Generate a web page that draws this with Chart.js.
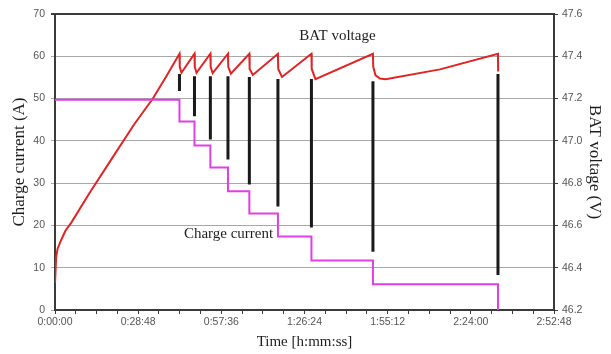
<!DOCTYPE html>
<html>
<head>
<meta charset="utf-8">
<script src="https://cdn.jsdelivr.net/npm/chart.js@4"></script>
<style>
  html, body { margin: 0; padding: 0; background: #fff; }
  #wrap { width: 611px; height: 354px; }
</style>
</head>
<body>
<div id="wrap"><canvas id="chargeChart" width="611" height="354"></canvas></div>
<script>
// BAT voltage trace, time in minutes, value in volts (right axis)
const voltTime = [0, 0.4, 0.9, 2.1, 3.6, 5.6, 11.9, 21.2, 27.5, 33.9, 38.3,
  43.1, 43.2, 43.8,
  48.3, 48.4, 49.0,
  53.8, 53.9, 54.6,
  59.9, 60.0, 60.9,
  67.3, 67.4, 68.5,
  77.2, 77.3, 78.6,
  88.8, 88.9, 90.2,
  110.1, 110.2, 111.0, 112.5, 114.5, 133.3,
  153.4, 153.45];
const voltValue = [46.328, 46.45, 46.49, 46.53, 46.575, 46.612, 46.752, 46.948, 47.08, 47.2, 47.3,
  47.412, 47.35, 47.322,
  47.412, 47.35, 47.322,
  47.412, 47.35, 47.32,
  47.412, 47.35, 47.318,
  47.412, 47.34, 47.312,
  47.412, 47.34, 47.302,
  47.412, 47.34, 47.292,
  47.412, 47.35, 47.31, 47.295, 47.292, 47.338,
  47.412, 47.328];

// Charge current steps (A), each level starts at stepTime
const stepTime = [0, 43.1, 48.3, 53.8, 59.9, 67.3, 77.2, 88.8, 110.1, 153.4];
const stepCurrent = [49.7, 44.6, 38.9, 33.7, 28.1, 22.8, 17.4, 11.7, 6.1, 0];

// Black voltage drop lines (V)
const dropTime = [43.1, 48.3, 53.8, 59.9, 67.3, 77.2, 88.8, 110.1, 153.4];
const dropTop = [47.316, 47.306, 47.306, 47.306, 47.302, 47.292, 47.292, 47.282, 47.316];
const dropBottom = [47.236, 47.116, 47.006, 46.912, 46.794, 46.69, 46.59, 46.476, 46.366];

// Axis setup
const timeMax = 172.8;        // 2:52:48
const timeMinorStep = 7.2;    // minor tick marks
const currentTicks = [0, 10, 20, 30, 40, 50, 60, 70];
const voltRange = [46.2, 47.6];

// In-chart labels (time in min, current in A)
const notes = [
  { text: "BAT voltage", t: 97.8, a: 64.8 },
  { text: "Charge current", t: 60.1, a: 18.0 }
];

const voltData = voltTime.map((t, i) => ({ x: t * 60, y: voltValue[i] }));

const currentData = [];
stepTime.forEach((t, i) => {
  if (i > 0) currentData.push({ x: t * 60, y: stepCurrent[i - 1] });
  currentData.push({ x: t * 60, y: stepCurrent[i] });
});

const dropData = [];
dropTime.forEach((t, i) => {
  dropData.push({ x: t * 60, y: dropTop[i] });
  dropData.push({ x: t * 60, y: dropBottom[i] });
  dropData.push({ x: t * 60, y: null });
});

function fmtTime(sec) {
  const h = Math.floor(sec / 3600);
  const m = Math.floor((sec % 3600) / 60);
  const s = Math.round(sec % 60);
  return h + ":" + String(m).padStart(2, "0") + ":" + String(s).padStart(2, "0");
}

const tickFont = { family: "'Liberation Sans', Arial, sans-serif", size: 10.5 };
const titleFont = { family: "'Liberation Serif', 'Times New Roman', serif", size: 15 };
const axisColor = "#3a3a3a";

const notesPlugin = {
  id: "notes",
  afterDatasetsDraw(chart) {
    const ctx = chart.ctx;
    const xs = chart.scales.x, ys = chart.scales.y;
    ctx.save();
    ctx.font = "15px 'Liberation Serif', 'Times New Roman', serif";
    ctx.fillStyle = "#1e1e1e";
    ctx.textAlign = "center";
    ctx.textBaseline = "middle";
    notes.forEach(n => {
      ctx.fillText(n.text, xs.getPixelForValue(n.t * 60), ys.getPixelForValue(n.a));
    });
    ctx.restore();
  }
};

new Chart(document.getElementById("chargeChart"), {
  type: "line",
  data: {
    datasets: [
      {
        label: "Charge current",
        data: currentData,
        yAxisID: "y",
        borderColor: "#e03ee6",
        borderWidth: 2,
        pointRadius: 0,
        tension: 0
      },
      {
        label: "Voltage drop",
        data: dropData,
        yAxisID: "yV",
        borderColor: "#1a1a1a",
        borderWidth: 3,
        pointRadius: 0,
        spanGaps: false
      },
      {
        label: "BAT voltage",
        data: voltData,
        yAxisID: "yV",
        borderColor: "#e02424",
        borderWidth: 2,
        pointRadius: 0,
        tension: 0
      }
    ]
  },
  options: {
    responsive: false,
    animation: false,
    layout: { padding: { top: 14, left: 0, right: 0, bottom: 0 } },
    plugins: {
      legend: { display: false },
      tooltip: { enabled: false }
    },
    scales: {
      x: {
        type: "linear",
        min: 0,
        max: timeMax * 60,
        afterFit(scale) { scale.height = 44; },
        afterBuildTicks(scale) {
          const t = [];
          for (let i = 0; i * timeMinorStep <= timeMax + 0.001; i++) t.push({ value: Math.round(i * timeMinorStep * 60) });
          scale.ticks = t;
        },
        ticks: {
          font: tickFont,
          color: "#555",
          padding: 2,
          maxRotation: 0,
          autoSkip: false,
          callback: (v, i) => (i % 4 === 0 ? fmtTime(v) : "")
        },
        grid: { drawOnChartArea: false, tickLength: 4, color: axisColor },
        border: { color: axisColor, width: 2 },
        title: {
          display: true,
          text: "Time [h:mm:ss]",
          font: titleFont,
          color: "#1e1e1e",
          padding: { top: 0, bottom: 3 }
        }
      },
      y: {
        position: "left",
        min: 0,
        max: 70,
        afterFit(scale) { scale.width = 55; },
        afterBuildTicks(scale) { scale.ticks = currentTicks.map(v => ({ value: v })); },
        ticks: { font: tickFont, color: "#555", padding: 6 },
        grid: {
          tickLength: 4,
          color: ctx => (ctx.tick && ctx.tick.value === 70 ? axisColor : "#a8a8a8"),
          lineWidth: ctx => (ctx.tick && ctx.tick.value === 70 ? 2 : 1)
        },
        border: { color: axisColor, width: 2 },
        title: {
          display: true,
          text: "Charge current (A)",
          font: { family: titleFont.family, size: 17 },
          color: "#1e1e1e",
          padding: { top: 9, bottom: 0 }
        }
      },
      yV: {
        position: "right",
        min: voltRange[0],
        max: voltRange[1],
        afterFit(scale) { scale.width = 57; },
        afterBuildTicks(scale) {
          const t = [];
          for (let i = 0; i <= 7; i++) t.push({ value: +(voltRange[0] + i * 0.2).toFixed(1) });
          scale.ticks = t;
        },
        ticks: {
          font: tickFont,
          color: "#555",
          padding: 4,
          callback: v => Number(v).toFixed(1)
        },
        grid: { drawOnChartArea: false, tickLength: 4, color: axisColor },
        border: { color: axisColor, width: 2 },
        title: {
          display: true,
          text: "BAT voltage (V)",
          font: { family: titleFont.family, size: 17 },
          color: "#1e1e1e",
          padding: { top: 6, bottom: 0 }
        }
      }
    }
  },
  plugins: [notesPlugin]
});
</script>
</body>
</html>
